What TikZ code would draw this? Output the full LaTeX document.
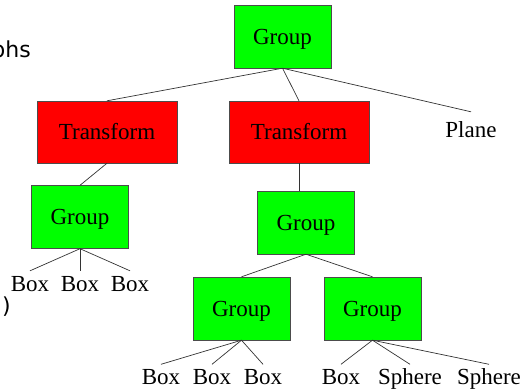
\documentclass[tikz,border=0pt]{standalone}
\usepackage{fontspec}
\setmainfont{Liberation Serif}
\newfontfamily\slidefont{DejaVu Sans}
\usetikzlibrary{positioning}

\begin{document}
\begin{tikzpicture}[x=1pt,y=-1pt,
    group/.style={draw=black!70,fill=green,minimum width=97pt,minimum height=63pt,text depth=0pt,font=\fontsize{23}{26}\selectfont},
    xform/.style={draw=black!70,fill=red,minimum width=140pt,minimum height=62pt,font=\fontsize{23}{26}\selectfont},
    leaf/.style={anchor=base,inner sep=5pt,text height=15pt,text depth=3pt,font=\fontsize{23}{26}\selectfont},
    link/.style={black!80,line width=0.7pt},
    frag/.style={anchor=base east,inner sep=0pt,font=\slidefont\fontsize{22}{26}\selectfont}
  ]
    \useasboundingbox (0,0) rectangle (525,389);
    \clip (0,0) rectangle (525,389);

    % Slide text cut at the left edge
    \node[frag] (title) at (31,57) {phs};
    \node[frag] (paren) at (11,313) {)};

    % Root and first level
    \node[group] (root) at (282.5,36.5) {Group};
    \node[xform] (tleft) at (107,132) {Transform};
    \node[xform] (tright) at (299,132) {Transform};
    \node[leaf] (plane) at (471,137) {Plane};

    % Second level
    \node[group] (gleft) at (80,217) {Group};
    \node[group] (gmid) at (306,222.5) {Group};

    % Third level
    \node[group] (gbl) at (241.5,308.5) {Group};
    \node[group] (gbr) at (372.5,308.5) {Group};

    % Leaves
    \node[leaf] (b1) at (30,291) {Box};
    \node[leaf] (b2) at (80,291) {Box};
    \node[leaf] (b3) at (130,291) {Box};
    \node[leaf] (b4) at (161,384.5) {Box};
    \node[leaf] (b5) at (212,384.5) {Box};
    \node[leaf] (b6) at (263,384.5) {Box};
    \node[leaf] (b7) at (341,384.5) {Box};
    \node[leaf] (s1) at (410,384.5) {Sphere};
    \node[leaf] (s2) at (489,384.5) {Sphere};

    % Edges
    \draw[link] (root.south) -- (tleft.north);
    \draw[link] (root.south) -- (tright.north);
    \draw[link] (root.south) -- ([yshift=5pt]plane.north);
    \draw[link] (tleft.south) -- (gleft.north);
    \draw[link] (tright.south) -- (tright.south |- gmid.north);
    \draw[link] (gmid.south) -- (gbl.north);
    \draw[link] (gmid.south) -- (gbr.north);
    \foreach \c in {b1,b2,b3} \draw[link] (gleft.south) -- (\c.north);
    \foreach \c in {b4,b5,b6} \draw[link] (gbl.south) -- (\c.north);
    \foreach \c in {b7,s1,s2} \draw[link] (gbr.south) -- (\c.north);
\end{tikzpicture}
\end{document}
